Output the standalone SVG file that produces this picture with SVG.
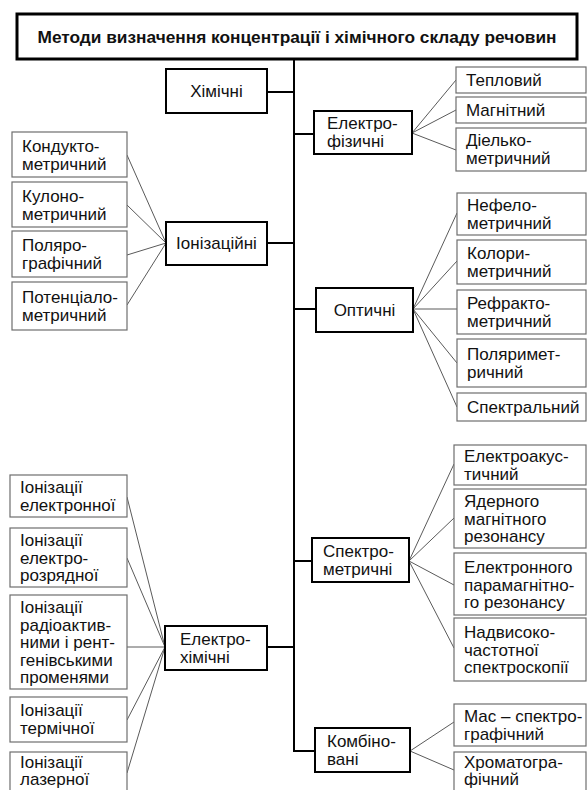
<svg xmlns="http://www.w3.org/2000/svg" width="588" height="790" viewBox="0 0 588 790">
<style>
text{font-family:"Liberation Sans",Arial,sans-serif;font-size:17px;fill:#111}
.title{font-weight:bold;font-size:17.3px}
.main rect{fill:#fff;stroke:#000;stroke-width:2}
.sub rect{fill:#fff;stroke:#6e6e6e;stroke-width:1.2}
.c{text-anchor:middle}
#connectors .trunk{stroke:#000;stroke-width:2;fill:none}
#connectors .fan{stroke:#5a5a5a;stroke-width:1;fill:none}
</style>
<rect width="588" height="790" fill="#fff"/>
<g id="connectors">
<path class="trunk" d="M294 59V751H315M267 92H294M294 134H314M267 243H294M294 309H316M294 561H312M267 647H294"/>
<path class="fan" d="M412 133L456 80M412 133L456 110M412 133L456 150M413 309L457 213M413 309L457 261M413 309L457 309M413 309L457 363M413 309L457 407M166 243L127 155M166 243L127 205M166 243L127 255M166 243L127 305M165 647L127 497M165 647L127 558M165 647L127 647M165 647L127 720M165 647L127 773M409 561L454 464M409 561L454 518M409 561L454 585M409 561L454 648M410 751L454 722M410 751L454 770"/>
</g>
<g id="title"><rect x="17" y="14" width="560" height="45" fill="#fff" stroke="#000" stroke-width="3"/><text class="title c" x="297" y="43">Методи визначення концентрації і хімічного складу речовин</text></g>
<g id="khimichni" class="main"><rect x="166" y="69" width="101" height="44"/><text class="c" x="216.5" y="97">Хімічні</text></g>
<g id="elektrofizychni" class="main"><rect x="314" y="111" width="98" height="43"/><text x="327" y="129">Електро-</text><text x="327" y="146.5">фізичні</text></g>
<g id="ionizatsiini" class="main"><rect x="166" y="222" width="101" height="43"/><text class="c" x="216.5" y="249">Іонізаційні</text></g>
<g id="optychni" class="main"><rect x="316" y="288" width="97" height="44"/><text class="c" x="364.5" y="316">Оптичні</text></g>
<g id="spektrometrychni" class="main"><rect x="312" y="538" width="97" height="44"/><text x="323" y="557">Спектро-</text><text x="323" y="574.5">метричні</text></g>
<g id="elektrokhimichni" class="main"><rect x="165" y="626" width="102" height="44"/><text x="180" y="645">Електро-</text><text x="180" y="662.5">хімічні</text></g>
<g id="kombinovani" class="main"><rect x="315" y="728" width="95" height="44"/><text x="327" y="747">Комбіно-</text><text x="327" y="764.5">вані</text></g>
<g id="teplovyi" class="sub"><rect x="456" y="67" width="130" height="26"/><text x="466" y="86">Тепловий</text></g>
<g id="mahnitnyi" class="sub"><rect x="456" y="97" width="130" height="26"/><text x="466" y="116">Магнітний</text></g>
<g id="dielkometrychnyi" class="sub"><rect x="456" y="128" width="130" height="43"/><text x="466" y="146">Діелько-</text><text x="466" y="163.5">метричний</text></g>
<g id="nefelometrychnyi" class="sub"><rect x="457" y="193" width="129" height="42"/><text x="467" y="211">Нефело-</text><text x="467" y="228.5">метричний</text></g>
<g id="kolorymetrychnyi" class="sub"><rect x="457" y="240" width="129" height="44"/><text x="467" y="259">Колори-</text><text x="467" y="276.5">метричний</text></g>
<g id="refraktometrychnyi" class="sub"><rect x="457" y="290" width="129" height="44"/><text x="467" y="309">Рефракто-</text><text x="467" y="326.5">метричний</text></g>
<g id="polyarymetrychnyi" class="sub"><rect x="457" y="339" width="129" height="48"/><text x="467" y="360">Поляримет-</text><text x="467" y="377.5">ричний</text></g>
<g id="spektralnyi" class="sub"><rect x="457" y="393" width="129" height="28"/><text x="467" y="413">Спектральний</text></g>
<g id="elektroakustychnyi" class="sub"><rect x="454" y="445" width="132" height="40"/><text x="464" y="462">Електроакус-</text><text x="464" y="479.5">тичний</text></g>
<g id="yadernoho" class="sub"><rect x="454" y="489" width="132" height="59"/><text x="464" y="507">Ядерного</text><text x="464" y="524.5">магнітного</text><text x="464" y="542">резонансу</text></g>
<g id="elektronnoho" class="sub"><rect x="454" y="553" width="132" height="62"/><text x="464" y="573">Електронного</text><text x="464" y="590.5">парамагнітно-</text><text x="464" y="608">го резонансу</text></g>
<g id="nadvysoko" class="sub"><rect x="454" y="618" width="132" height="63"/><text x="464" y="638">Надвисоко-</text><text x="464" y="655.5">частотної</text><text x="464" y="673">спектроскопії</text></g>
<g id="mas" class="sub"><rect x="454" y="704" width="132" height="42"/><text x="464" y="722">Мас – спектро-</text><text x="464" y="739.5">графічний</text></g>
<g id="khromatohra" class="sub"><rect x="454" y="752" width="132" height="45"/><text x="464" y="767.5">Хроматогра-</text><text x="464" y="785">фічний</text></g>
<g id="konduktometrychnyi" class="sub"><rect x="12" y="132" width="115" height="45"/><text x="22" y="152">Кондукто-</text><text x="22" y="169.5">метричний</text></g>
<g id="kulonometrychnyi" class="sub"><rect x="12" y="182" width="115" height="45"/><text x="22" y="202">Кулоно-</text><text x="22" y="219.5">метричний</text></g>
<g id="polyarohrafichnyi" class="sub"><rect x="12" y="231" width="115" height="46"/><text x="22" y="251">Поляро-</text><text x="22" y="268.5">графічний</text></g>
<g id="potentsialometrychnyi" class="sub"><rect x="12" y="282" width="115" height="48"/><text x="22" y="303">Потенціало-</text><text x="22" y="320.5">метричний</text></g>
<g id="elektronnoi" class="sub"><rect x="10" y="475" width="117" height="42"/><text x="20" y="493">Іонізації</text><text x="20" y="510.5">електронної</text></g>
<g id="elektrorozryadnoi" class="sub"><rect x="10" y="528" width="117" height="59"/><text x="20" y="546">Іонізації</text><text x="20" y="563.5">електро-</text><text x="20" y="581">розрядної</text></g>
<g id="radioaktyvnymy" class="sub"><rect x="10" y="595" width="117" height="94"/><text x="20" y="613">Іонізації</text><text x="20" y="630.5">радіоактив-</text><text x="20" y="648">ними і рент-</text><text x="20" y="665.5">генівськими</text><text x="20" y="683">променями</text></g>
<g id="termichnoi" class="sub"><rect x="10" y="697" width="117" height="45"/><text x="20" y="716">Іонізації</text><text x="20" y="733.5">термічної</text></g>
<g id="lazernoi" class="sub"><rect x="10" y="752" width="117" height="45"/><text x="20" y="767.5">Іонізації</text><text x="20" y="785">лазерної</text></g>
</svg>
